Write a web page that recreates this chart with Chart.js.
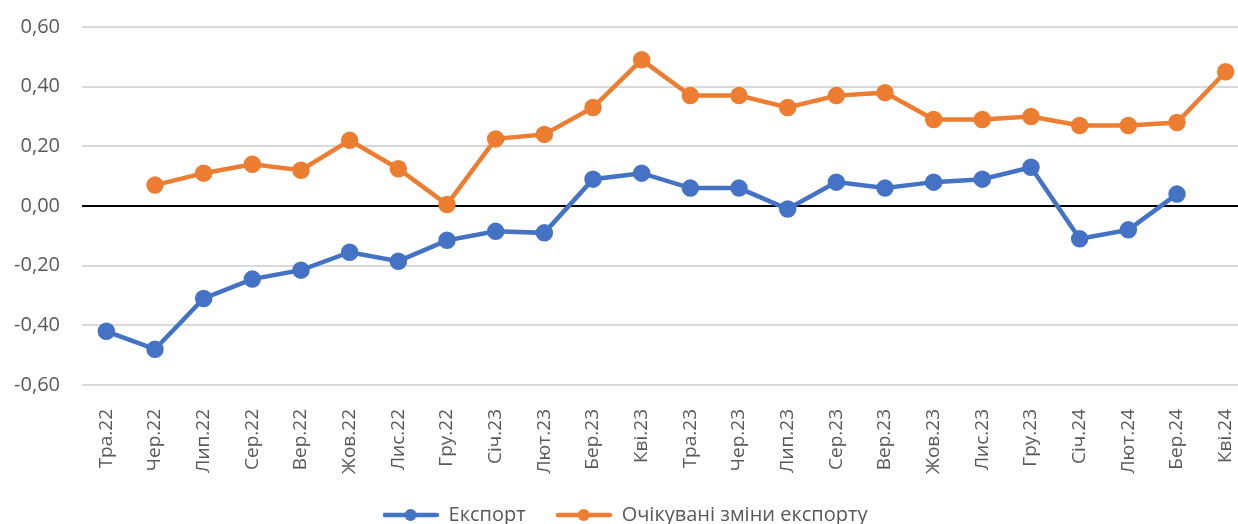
<!DOCTYPE html>
<html>
<head>
<meta charset="utf-8">
<script src="https://cdn.jsdelivr.net/npm/chart.js@4"></script>
<style>
    html, body { margin: 0; padding: 0; background: #fff; overflow: hidden; }
    .chart_outer { width: 1252px; height: 524px; }
</style>
</head>
<body>
<div class="chart_outer"><canvas id="chart" width="1252" height="524"></canvas></div>
<script>
const months = ["Тра.22", "Чер.22", "Лип.22", "Сер.22", "Вер.22", "Жов.22", "Лис.22", "Гру.22",
    "Січ.23", "Лют.23", "Бер.23", "Кві.23", "Тра.23", "Чер.23", "Лип.23", "Сер.23",
    "Вер.23", "Жов.23", "Лис.23", "Гру.23", "Січ.24", "Лют.24", "Бер.24", "Кві.24"];

const exportValues = [-0.42, -0.48, -0.31, -0.245, -0.215, -0.155, -0.185, -0.115,
    -0.085, -0.09, 0.09, 0.11, 0.06, 0.06, -0.01, 0.08,
    0.06, 0.08, 0.09, 0.13, -0.11, -0.08, 0.04, null];

const expectedValues = [null, 0.07, 0.11, 0.14, 0.12, 0.22, 0.125, 0.005,
    0.225, 0.24, 0.33, 0.49, 0.37, 0.37, 0.33, 0.37,
    0.38, 0.29, 0.29, 0.30, 0.27, 0.27, 0.28, 0.45];

const yTicks = [-0.6, -0.4, -0.2, 0, 0.2, 0.4, 0.6];

const blue = "#4472C4";
const orange = "#ED7D31";
const fontFamily = "'Open Sans', 'Liberation Sans', sans-serif";

// legend symbol: line with a dot in the middle, like Excel
function legendSymbol(color) {
    const c = document.createElement("canvas");
    c.width = 56;
    c.height = 14;
    const g = c.getContext("2d");
    g.strokeStyle = color;
    g.lineWidth = 4.5;
    g.lineCap = "round";
    g.beginPath();
    g.moveTo(2, 7);
    g.lineTo(54, 7);
    g.stroke();
    g.fillStyle = color;
    g.beginPath();
    g.arc(28, 7, 6, 0, Math.PI * 2);
    g.fill();
    return c;
}

// keep the legend short so the plot gets the room
const legendHeight = {
    id: "legendHeight",
    beforeInit(chart) {
        const origFit = chart.legend.fit;
        chart.legend.fit = function () {
            origFit.call(this);
            this.height = 49;
        };
    }
};

new Chart(document.getElementById("chart"), {
    type: "line",
    data: {
        labels: months,
        datasets: [{
            label: "Експорт",
            data: exportValues,
            borderColor: blue,
            backgroundColor: blue,
            borderWidth: 4.5,
            pointRadius: 6.5,
            pointHoverRadius: 6.5,
            tension: 0
        }, {
            label: "Очікувані зміни експорту",
            data: expectedValues,
            borderColor: orange,
            backgroundColor: orange,
            borderWidth: 4.5,
            pointRadius: 6.5,
            pointHoverRadius: 6.5,
            tension: 0
        }]
    },
    plugins: [legendHeight],
    options: {
        responsive: false,
        maintainAspectRatio: false,
        animation: false,
        layout: { autoPadding: false, padding: { top: 27, bottom: 0, left: 0, right: 2 } },
        plugins: {
            tooltip: { enabled: false },
            legend: {
                position: "bottom",
                labels: {
                    usePointStyle: true,
                    pointStyleWidth: 56,
                    padding: 30,
                    color: "#595959",
                    font: { family: fontFamily, size: 20 },
                    generateLabels: function (chart) {
                        return chart.data.datasets.map(function (ds, i) {
                            return {
                                text: ds.label,
                                pointStyle: legendSymbol(ds.borderColor),
                                fontColor: "#595959",
                                lineWidth: 0,
                                hidden: false,
                                datasetIndex: i
                            };
                        });
                    }
                }
            }
        },
        scales: {
            x: {
                offset: true,
                grid: { display: false },
                border: { display: false },
                afterFit: function (axis) {
                    axis.height = 90;
                    axis.paddingLeft = 0;
                    axis.paddingRight = 0;
                },
                ticks: {
                    minRotation: 90,
                    maxRotation: 90,
                    autoSkip: false,
                    padding: 16,
                    color: "#595959",
                    font: { family: fontFamily, size: 19 }
                }
            },
            y: {
                min: -0.6,
                max: 0.6,
                afterBuildTicks: function (axis) {
                    axis.ticks = yTicks.map(v => ({ value: v }));
                },
                afterFit: function (axis) {
                    axis.width = 82;
                    axis.paddingTop = 0;
                    axis.paddingBottom = 0;
                },
                border: { display: false },
                grid: {
                    drawTicks: false,
                    lineWidth: 2,
                    color: ctx => ctx.tick && ctx.tick.value === 0 ? "#000000" : "#d9d9d9"
                },
                ticks: {
                    padding: 22,
                    color: "#595959",
                    font: { family: fontFamily, size: 20 },
                    callback: v => v.toFixed(2).replace(".", ",")
                }
            }
        }
    }
});
</script>
</body>
</html>
